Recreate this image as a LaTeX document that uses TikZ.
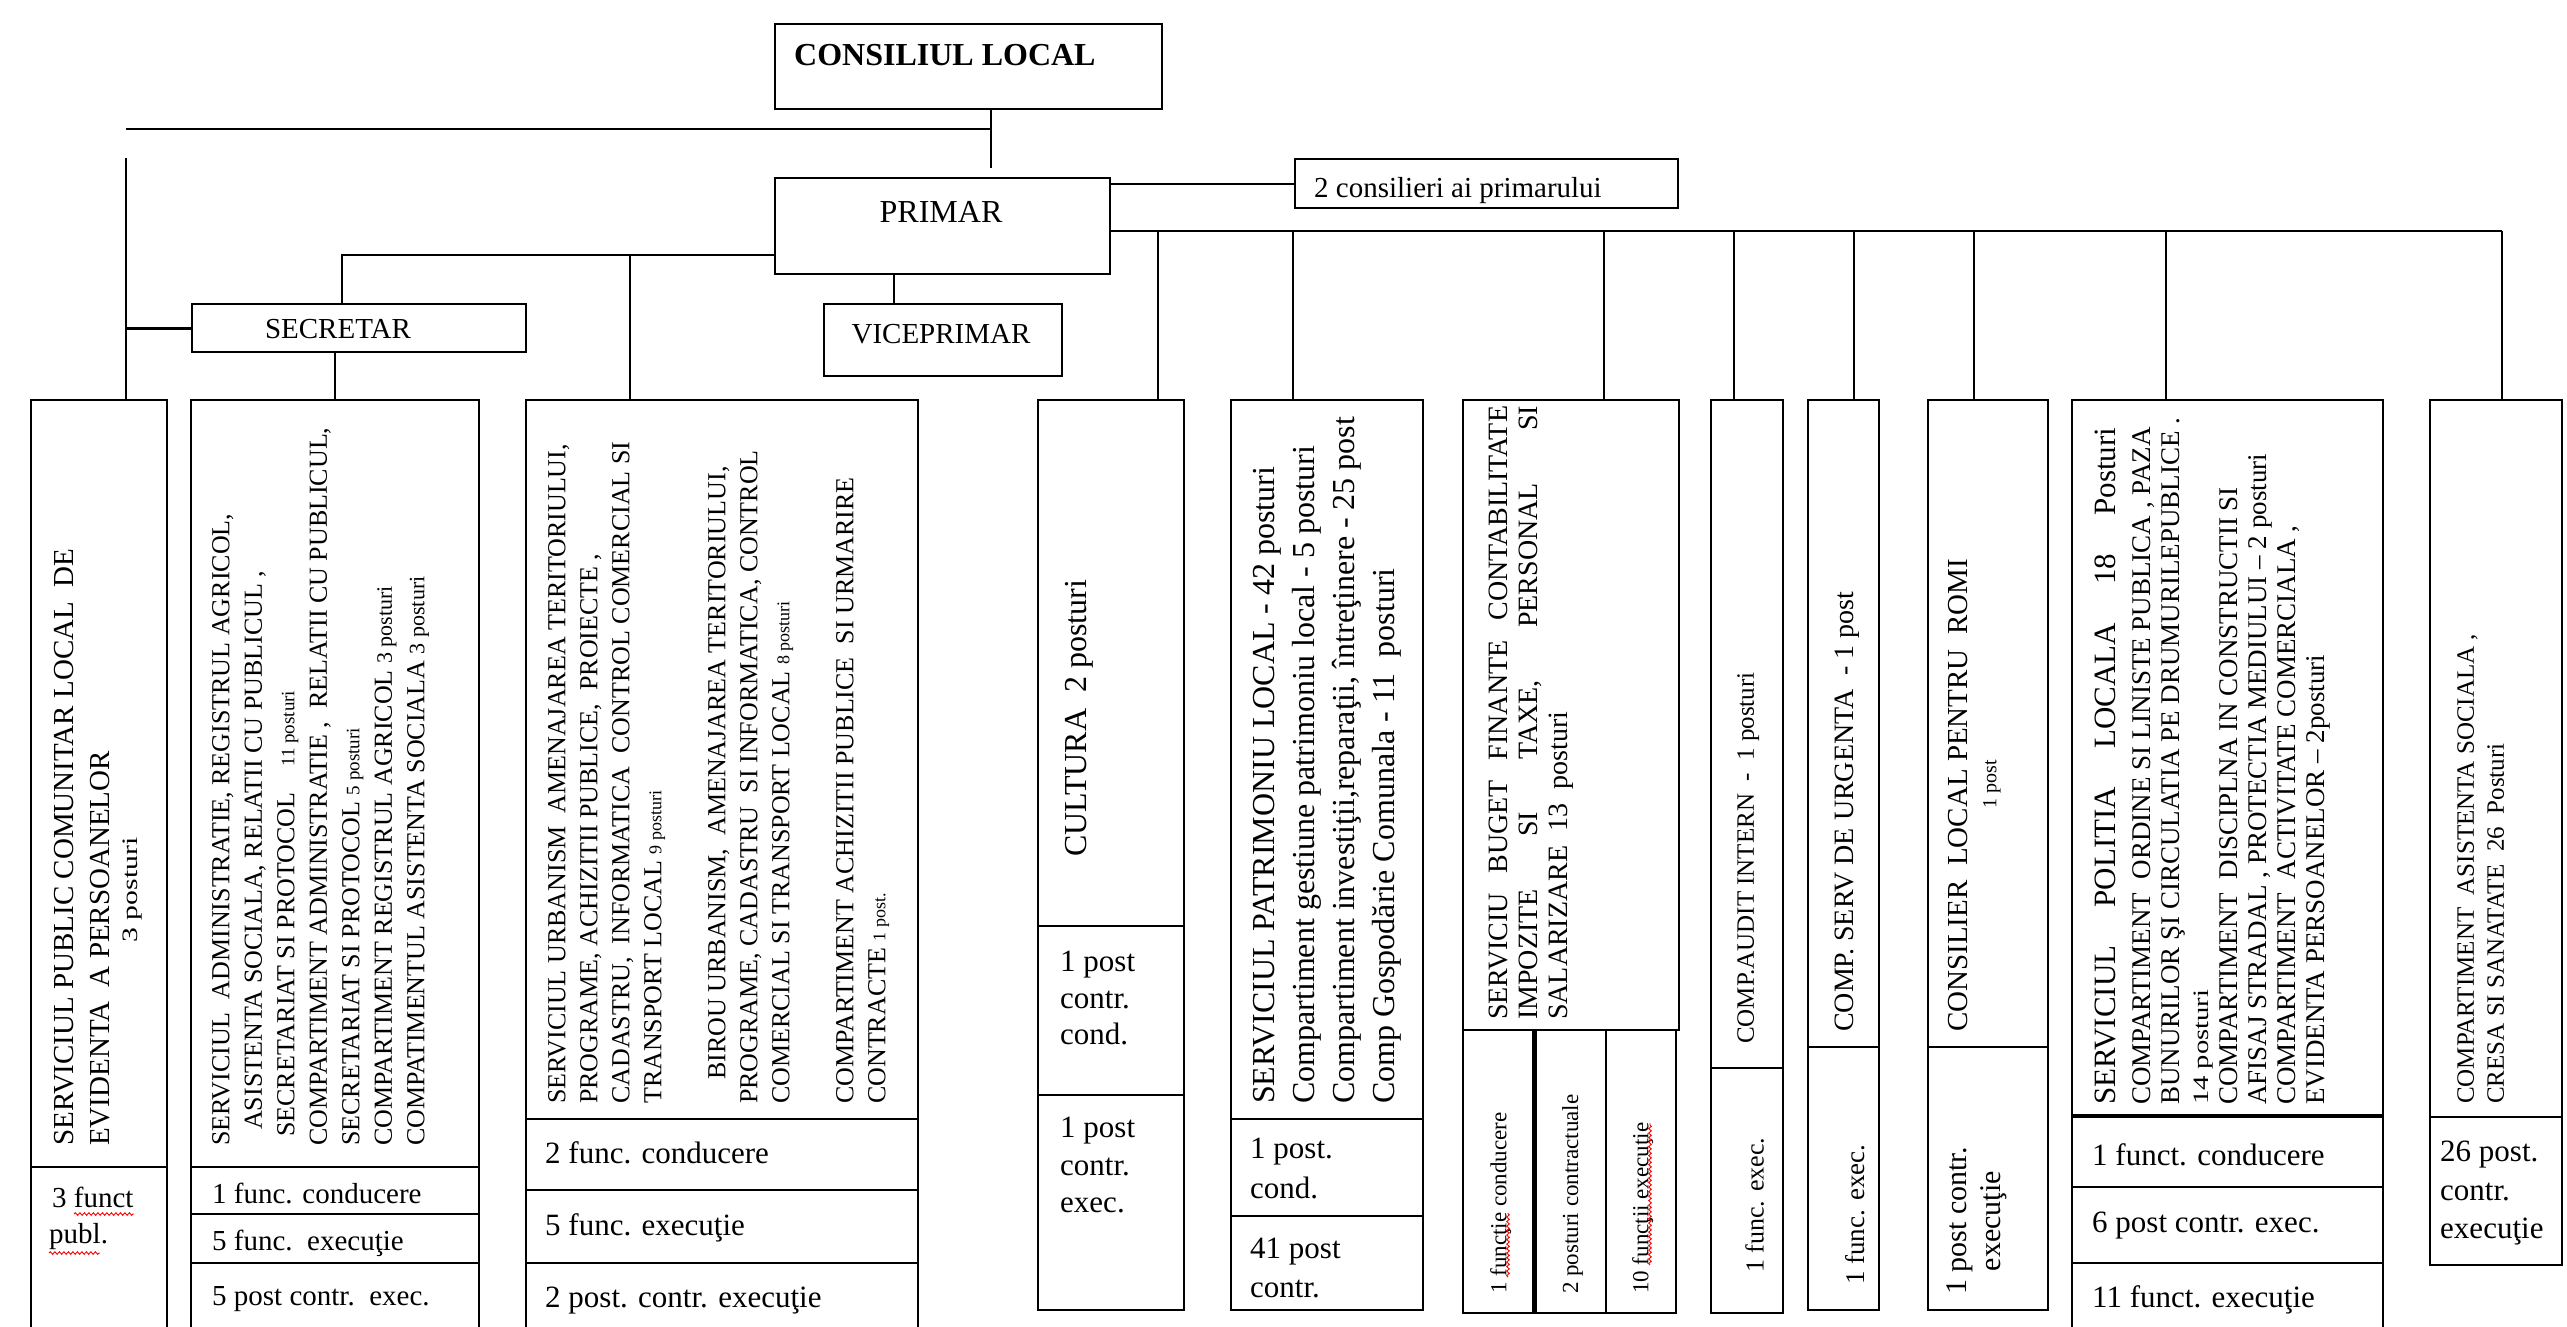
\documentclass[tikz,border=0pt]{standalone}
\usepackage{fontspec}
\setmainfont{Liberation Serif}
\usepackage{graphicx}
\usetikzlibrary{calc,decorations.pathmorphing}
\newcommand{\fs}[2]{\fontsize{#1pt}{#2pt}\selectfont}
\begin{document}
\begin{tikzpicture}[x=1pt,y=-1pt,
  box/.style={draw, line width=2.4pt, inner sep=0pt, anchor=north west},
  conn/.style={line width=2pt},
  divl/.style={line width=2.2pt},
  rt/.style={rotate=90, anchor=north west, inner sep=0pt, align=left},
  ht/.style={anchor=base west, inner sep=0pt},
  hc/.style={anchor=base, inner sep=0pt},
  squig/.style={red, line width=0.9pt, decorate, decoration={snake, amplitude=1.3pt, segment length=4.5pt}}]
\fill[white] (0,0) rectangle (2567,1326);
\useasboundingbox (0,0) rectangle (2567,1326);

% ---------- boxes ----------
\node[box, minimum width=387pt, minimum height=85pt] (cl) at (774,23) {};
\node[box, minimum width=335pt, minimum height=96pt] (primar) at (774,177) {};
\node[box, minimum width=334pt, minimum height=48pt] (sec) at (191,303) {};
\node[box, minimum width=238pt, minimum height=72pt] (vice) at (823,303) {};
\node[box, minimum width=383pt, minimum height=49pt] (cons) at (1294,158) {};
\node[box, minimum width=136pt, minimum height=940pt] (b1) at (30,399) {};
\node[box, minimum width=288pt, minimum height=940pt] (b2) at (190,399) {};
\node[box, minimum width=392pt, minimum height=940pt] (b3) at (525,399) {};
\node[box, minimum width=146pt, minimum height=910pt] (cult) at (1037,399) {};
\node[box, minimum width=192pt, minimum height=910pt] (patr) at (1230,399) {};
\node[box, minimum width=216pt, minimum height=630pt] (buget) at (1462,399) {};
\node[box, minimum width=70pt, minimum height=283pt] (bq1) at (1462,1029) {};
\node[box, minimum width=73pt, minimum height=283pt] (bq2) at (1532,1029) {};
\node[box, minimum width=70pt, minimum height=283pt] (bq3) at (1605,1029) {};
\node[box, minimum width=72pt, minimum height=913pt] (audit) at (1710,399) {};
\node[box, minimum width=71pt, minimum height=910pt] (urg) at (1807,399) {};
\node[box, minimum width=120pt, minimum height=910pt] (romi) at (1927,399) {};
\node[box, minimum width=311pt, minimum height=940pt] (pol) at (2071,399) {};
\node[box, minimum width=132pt, minimum height=865pt] (asis) at (2429,399) {};

% ---------- dividers ----------
\foreach \nm/\yy in {b1/1167, b2/1167, b2/1214, b2/1263, b3/1119, b3/1190, b3/1263,
  cult/926, cult/1095, patr/1119, patr/1216, audit/1068, urg/1047, romi/1047,
  pol/1187, pol/1263, asis/1117}
  \draw[divl] (\nm.west |- 0,\yy) -- (\nm.east |- 0,\yy);
\draw[line width=3.6pt] (pol.west |- 0,1116) -- (pol.east |- 0,1116);
\draw[line width=5pt] (bq1.north east) -- (bq1.south east);

% ---------- connectors ----------
\coordinate (clj) at (991,168);
\draw[conn] (cl.south -| clj) -- (clj);
\coordinate (hl) at (126,129);
\coordinate (hr) at (991,129);
\draw[conn] (hl) -- (hr);
\coordinate (lv) at (126,158);
\draw[conn] (lv) -- (lv |- b1.north);
\draw[conn, line width=3pt] (lv |- sec.west) -- (sec.west);
\draw[conn] (b2.north |- sec.south) -- (b2.north);
\coordinate (pl) at (342,255);
\draw[conn] (primar.west |- pl) -| (sec.north -| pl);
\coordinate (p3) at (630,255);
\draw[conn] (p3) -- (b3.north -| p3);
\coordinate (pv) at (894,273);
\draw[conn] (primar.south -| pv) -- (vice.north -| pv);
\draw[conn] (primar.east |- cons.west) -- (cons.west);
\coordinate (busend) at (2502,231);
\draw[conn] (primar.east |- busend) -- (busend);
\foreach \xx/\nm in {1158/cult, 1293/patr, 1604/buget, 1734/audit, 1854/urg, 1974/romi, 2166/pol, 2502/asis}
  \draw[conn] (\xx,231) -- (\nm.north -| \xx,0);

% ---------- top texts ----------
\node[ht, font=\fs{32}{38}\bfseries] (tcl) at (794,65) {CONSILIUL LOCAL};
\node[hc, font=\fs{32}{38}] (tpr) at (941,222) {PRIMAR};
\node[hc, font=\fs{29}{35}] (tsec) at (338,338) {SECRETAR};
\node[hc, font=\fs{29}{35}] (tvice) at (941,343) {VICEPRIMAR};
\node[ht, font=\fs{29}{35}] (tcons) at (1314,197) {2 consilieri ai primarului};

% ---------- box 1 ----------
\node[rt, font=\fs{29}{36}] (t1) at (54,1146) {SERVICIUL PUBLIC COMUNITAR LOCAL\ \ DE\\EVIDENTA\ \ A PERSOANELOR};
\node[rotate=90, anchor=north, inner sep=0pt, font=\fs{22}{26}] (t1b) at (123,890) {\scalebox{1.35}[1]{3 posturi}};
\node[ht, font=\fs{29}{35}] (t1c) at (52,1207) {3 funct};
\node[ht, font=\fs{29}{35}] (t1d) at (49,1243) {publ.};
\draw[squig] (74,1214) -- (134,1214);
\draw[squig] (49,1253) -- (100,1253);

% ---------- box 2 ----------
\node[rt, font=\fs{26}{32.5}] (t2) at (212,1146) {SERVICIUL\ \ ADMINISTRATIE, REGISTRUL AGRICOL,\\
\hspace*{16pt}ASISTENTA SOCIALA, RELATII CU PUBLICUL ,\\
\hspace*{9pt}SECRETARIAT SI PROTOCOL\quad{\fs{19}{32.5}11 posturi}\\
COMPARTIMENT ADMINISTRATIE ,\ \ RELATII CU PUBLICUL,\\
SECRETARIAT SI PROTOCOL {\fs{19}{32.5}5 posturi}\\
COMPARTIMENT REGISTRUL AGRICOL {\fs{22}{32.5}3 posturi}\\
COMPATIMENTUL ASISTENTA SOCIALA {\fs{22}{32.5}3 posturi}};
\node[ht, font=\fs{29}{35}] (t2a) at (212,1203) {1 func. conducere};
\node[ht, font=\fs{29}{35}] (t2b) at (212,1250) {5 func.\ \ execuţie};
\node[ht, font=\fs{29}{35}] (t2c) at (212,1305) {5 post contr.\ \ exec.};

% ---------- box 3 ----------
\node[rt, font=\fs{26}{32}] (t3) at (548,1104) {SERVICIUL URBANISM\ \ AMENAJAREA TERITORIULUI,\\
PROGRAME, ACHIZITII PUBLICE,\ \ PROIECTE ,\\
CADASTRU,\ \ INFORMATICA\ \ CONTROL COMERCIAL SI\\
TRANSPORT LOCAL {\fs{18}{32}9 posturi}\\[32pt]
\hspace*{24pt}BIROU URBANISM,\ \ AMENAJAREA TERITORIULUI,\\
PROGRAME, CADASTRU\ \ SI INFORMATICA, CONTROL\\
COMERCIAL SI TRANSPORT LOCAL {\fs{18}{32}8 posturi}\\[32pt]
COMPARTIMENT ACHIZITII PUBLICE\ \ SI URMARIRE\\
CONTRACTE {\fs{18}{32}1 post.}};
\node[ht, font=\fs{31}{36}] (t3a) at (545,1163) {2 func. conducere};
\node[ht, font=\fs{31}{36}] (t3b) at (545,1235) {5 func. execuţie};
\node[ht, font=\fs{31}{36}] (t3c) at (545,1307) {2 post. contr. execuţie};

% ---------- cultura ----------
\node[rt, font=\fs{32}{38}] (tcu) at (1065,857) {CULTURA\ \ 2 posturi};
\node[ht, font=\fs{31}{36}] (tcu1) at (1060,971) {1 post};
\node[ht, font=\fs{31}{36}] (tcu2) at (1060,1008) {contr.};
\node[ht, font=\fs{31}{36}] (tcu3) at (1060,1044) {cond.};
\node[ht, font=\fs{31}{36}] (tcu4) at (1060,1137) {1 post};
\node[ht, font=\fs{31}{36}] (tcu5) at (1060,1175) {contr.};
\node[ht, font=\fs{31}{36}] (tcu6) at (1060,1212) {exec.};

% ---------- patrimoniu ----------
\node[rt, font=\fs{32}{40}] (tpa) at (1253,1104) {SERVICIUL PATRIMONIU LOCAL - 42 posturi\\
Compartiment gestiune patrimoniu local - 5 posturi\\
Compartiment investiţii,reparaţii, întreţinere - 25 post\\
Comp Gospodărie Comunala - 11\ \ posturi};
\node[ht, font=\fs{31}{36}] (tpa1) at (1250,1158) {1 post.};
\node[ht, font=\fs{31}{36}] (tpa2) at (1250,1198) {cond.};
\node[ht, font=\fs{31}{36}] (tpa3) at (1250,1258) {41 post};
\node[ht, font=\fs{31}{36}] (tpa4) at (1250,1297) {contr.};

% ---------- buget ----------
\node[rt, font=\fs{28}{30}] (tbu) at (1489,1020) {\hbox to 614pt{SERVICIU\hfill BUGET\hfill FINANTE\hfill CONTABILITATE}\\
\hbox to 614pt{IMPOZITE\hfill SI\hfill TAXE,\hfill PERSONAL\hfill SI}\\
SALARIZARE\ \ 13\ \ posturi};
\node[rt, font=\fs{23}{28}] (tbu1) at (1490,1294) {1 funcţie conducere};
\node[rt, font=\fs{23}{28}] (tbu2) at (1562,1294) {2 posturi contractuale};
\node[rt, font=\fs{23}{28}] (tbu3) at (1632,1294) {10 funcţii execuţie};
\draw[squig] (1508,1277) -- (1508,1213);
\draw[squig] (1650,1265) -- (1650,1123);

% ---------- audit / urgenta / romi ----------
\node[rt, font=\fs{25}{30}] (tau) at (1737,1044) {COMP.AUDIT INTERN\ \ -\ \ 1 posturi};
\node[rt, font=\fs{26}{30}] (tau1) at (1745,1273) {1 func. exec.};
\node[rt, font=\fs{28}{33}] (tur) at (1835,1032) {COMP. SERV DE URGENTA\ \ - 1 post};
\node[rt, font=\fs{27}{32}] (tur1) at (1845,1285) {1 func. exec.};
\node[rt, font=\fs{29}{35}] (tro) at (1948,1032) {CONSILIER\ \ LOCAL PENTRU\ \ ROMI};
\node[rotate=90, anchor=north, inner sep=0pt, font=\fs{20}{24}] (tro2) at (1983,784) {1 post};
\node[rotate=90, anchor=north west, inner sep=0pt, align=center, font=\fs{30}{34}] (tro1) at (1946,1295) {1 post contr.\\execuţie};

% ---------- politia ----------
\node[rt, font=\fs{31}{36}] (tpo) at (2095,1105) {\hbox to 677pt{SERVICIUL\hfill POLITIA\hfill LOCALA\hfill 18\hfill Posturi}};
\node[rt, font=\fs{27}{29}] (tpo2) at (2132,1105) {COMPARTIMENT\ \ ORDINE SI LINISTE PUBLICA , PAZA\\
BUNURILOR ŞI CIRCULATIA PE DRUMURILEPUBLICE .\\
{\fs{22}{29}\scalebox{1.3}[1]{14 posturi}}\\
COMPARTIMENT\ \ DISCIPLNA IN CONSTRUCTII SI\\
AFISAJ STRADAL , PROTECTIA MEDIULUI – 2 posturi\\
COMPARTIMENT\ \ ACTIVITATE COMERCIALA ,\\
EVIDENTA PERSOANELOR – 2posturi};
\node[ht, font=\fs{31}{36}] (tpo3) at (2092,1165) {1 funct. conducere};
\node[ht, font=\fs{31}{36}] (tpo4) at (2092,1232) {6 post contr. exec.};
\node[ht, font=\fs{31}{36}] (tpo5) at (2092,1307) {11 funct. execuţie};

% ---------- asistenta ----------
\node[rt, font=\fs{25}{30}] (tas) at (2457,1104) {COMPARTIMENT\ \ ASISTENTA SOCIALA ,\\
CRESA SI SANATATE\ \ 26\ \ Posturi};
\node[ht, font=\fs{31}{36}] (tas1) at (2440,1161) {26 post.};
\node[ht, font=\fs{31}{36}] (tas2) at (2440,1200) {contr.};
\node[ht, font=\fs{31}{36}] (tas3) at (2440,1238) {execuţie};
\end{tikzpicture}
\end{document}
